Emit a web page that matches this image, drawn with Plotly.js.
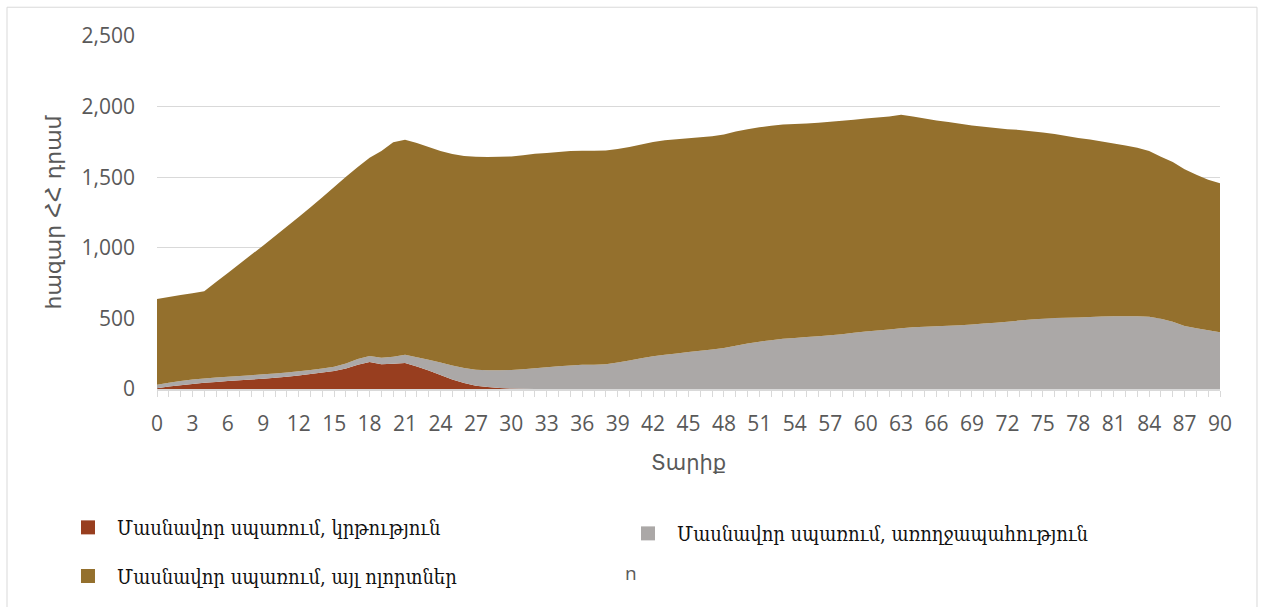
<!DOCTYPE html>
<html>
<head>
<meta charset="utf-8">
<script src="https://cdn.plot.ly/plotly-3.0.1.min.js"></script>
<style>html,body{margin:0;padding:0;background:#fff;}#chart{width:1263px;height:607px;}</style>
</head>
<body>
<div id="chart"></div>
<script>
// Ages 0..90
const ages = Array.from({length: 91}, (_, i) => i);
const xTickVals = [0,3,6,9,12,15,18,21,24,27,30,33,36,39,42,45,48,51,54,57,60,63,66,69,72,75,78,81,84,87,90];
const yTickVals = [0, 500, 1000, 1500, 2000, 2500];

const seriesNames = [
  "Մասնավոր սպառում, կրթություն",
  "Մասնավոր սպառում, առողջապահություն",
  "Մասնավոր սպառում, այլ ոլորտներ"
];

// Private consumption, education (thousand AMD)
const education = [5,17,27,36,44,50,56,62,68,73,79,87,96,106,116,128,146,172,192,176,
  178,184,160,131,100,68,42,23,14,7,3,1,0,0,0,0,0,0,0,0,
  0,0,0,0,0,0,0,0,0,0,0,0,0,0,0,0,0,0,0,0,
  0,0,0,0,0,0,0,0,0,0,0,0,0,0,0,0,0,0,0,0,
  0,0,0,0,0,0,0,0,0,0,0];

// Private consumption, health (thousand AMD)
const health = [25,28,30,31,31,31,30,30,30,31,31,30,29,29,29,29,34,40,42,46,
  50,59,64,76,87,98,106,113,119,126,132,139,147,154,161,166,171,171,175,187,
  201,217,232,243,252,262,271,280,291,307,322,335,346,355,362,368,374,381,388,398,
  407,414,421,430,437,441,444,448,451,457,463,470,477,485,493,498,502,505,507,510,
  514,516,516,515,512,498,477,446,431,416,402];

// Private consumption, other sectors (thousand AMD)
const other = [608,607,608,611,617,676,736,795,854,913,973,1033,1093,1153,1213,1273,1323,1360,1404,1463,
  1520,1522,1519,1506,1498,1498,1502,1509,1510,1512,1512,1516,1519,1518,1517,1519,1516,1516,1514,1512,
  1512,1514,1518,1519,1517,1514,1512,1510,1511,1516,1517,1518,1519,1519,1515,1513,1512,1512,1512,1509,
  1509,1509,1509,1512,1493,1475,1458,1443,1428,1410,1395,1379,1362,1350,1332,1318,1304,1287,1271,1257,
  1239,1223,1209,1193,1173,1147,1131,1110,1086,1066,1056];

const colors = ["#983E1F", "#ABA8A7", "#94702D"];
const legendIds = ["legend", "legend2", "legend3"];
const valuesList = [education, health, other];

const traces = [];
valuesList.forEach((vals, i) => {
  traces.push({
    x: ages, y: vals, type: "scatter", mode: "none",
    stackgroup: "one", fillcolor: colors[i], line: {width: 0},
    name: seriesNames[i], showlegend: false, hoverinfo: "x+y+name"
  });
});
// legend entries (square markers)
seriesNames.forEach((n, i) => {
  traces.push({
    x: [null], y: [null], type: "scatter", mode: "markers",
    marker: {symbol: "square", size: 14, color: colors[i]},
    name: n, showlegend: true, legend: legendIds[i]
  });
});

const axisGray = "#595959";
const gridGray = "#d9d9d9";
const legendFont = {family: "DejaVu Serif Condensed, DejaVu Serif, serif", size: 20, color: "#111111"};

function legendAt(x, y) {
  return {x: x, y: y, xanchor: "left", yanchor: "middle", orientation: "h",
    bgcolor: "rgba(0,0,0,0)", borderwidth: 0, font: legendFont, itemwidth: 48};
}

const layout = {
  width: 1263, height: 607,
  margin: {l: 157, r: 43, t: 36, b: 215},
  paper_bgcolor: "#ffffff", plot_bgcolor: "#ffffff",
  font: {family: "Open Sans, sans-serif", color: axisGray},
  xaxis: {
    range: [0, 90], tickmode: "array", tickvals: xTickVals,
    ticks: "outside", ticklen: 6, tickcolor: gridGray, tickwidth: 1,
    minor: {dtick: 1, ticks: "outside", ticklen: 6, tickcolor: gridGray, showgrid: false},
    showline: true, linecolor: gridGray, linewidth: 1.5,
    showgrid: false, zeroline: false,
    tickfont: {size: 21, color: axisGray, family: "Open Sans, sans-serif"},
    ticklabelstandoff: 9,
    title: {text: "Տարիք", font: {size: 21, color: axisGray, family: "DejaVu Sans, sans-serif"}, standoff: 19}
  },
  yaxis: {
    range: [0, 2500], tickmode: "array", tickvals: yTickVals, tickformat: ",",
    showgrid: true, gridcolor: gridGray, gridwidth: 1.3,
    zeroline: false, showline: false, ticks: "",
    tickfont: {size: 21, color: axisGray, family: "Open Sans, sans-serif"},
    ticklabelstandoff: 21,
    title: {text: "հազար ՀՀ դրամ", font: {size: 22, color: axisGray, family: "DejaVu Sans, sans-serif"}, standoff: 13}
  },
  legend: legendAt(-0.0922, -0.392),
  legend2: legendAt(0.4346, -0.409),
  legend3: legendAt(-0.0922, -0.530),
  shapes: [{
    type: "rect", xref: "paper", yref: "paper",
    x0: -0.1411, x1: 1.0348, y0: -0.62, y1: 1.0815,
    line: {color: gridGray, width: 1}, fillcolor: "rgba(0,0,0,0)", layer: "below"
  }],
  annotations: [{
    xref: "paper", yref: "paper", x: 0.4459, y: -0.5225,
    xanchor: "center", yanchor: "middle", showarrow: false,
    text: "n", font: {size: 19, color: axisGray, family: "Open Sans, sans-serif"}
  }]
};

Plotly.newPlot("chart", traces, layout, {displayModeBar: false, staticPlot: true});
</script>
</body>
</html>
